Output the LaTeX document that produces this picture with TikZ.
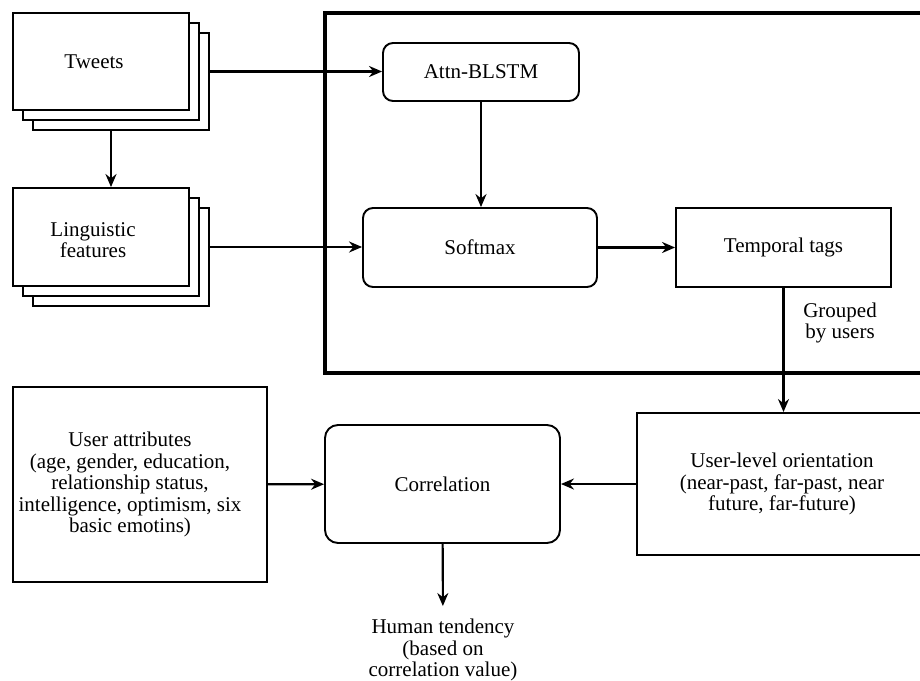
\documentclass[tikz,border=0pt]{standalone}
\usepackage{fontspec}
\setmainfont{Liberation Serif}
\usetikzlibrary{arrows.meta,shadows}
\tikzset{
	box/.style={draw,fill=white,align=center,inner sep=0pt},
	rbox/.style={box,rounded corners=10pt},
	docs/.style={box,copy shadow={shadow xshift=20pt,shadow yshift=-20pt,draw=black,fill=white},
		copy shadow={shadow xshift=10pt,shadow yshift=-10pt,draw=black,fill=white}},
	txt/.style={align=center,inner sep=0pt},
	link/.style={-{Stealth[length=13pt,width=11pt]},line width=2.1pt}
}
\begin{document}
\begin{tikzpicture}[x=1pt,y=-1pt,line width=1.9pt,font=\fontsize{21}{21.5}\selectfont]
		\useasboundingbox (0,0) rectangle (920,680);
		\draw[line width=4pt] (325,13) rectangle (935,373);
		\node[docs,minimum width=176pt,minimum height=97pt,label={[txt,xshift=-7pt]center:Tweets}] (tweets) at (101,61.5) {};
		\node[docs,minimum width=176pt,minimum height=98pt,label={[txt,xshift=-8pt,yshift=-3pt]center:Linguistic\\features}] (ling) at (101,237) {};
		\node[rbox,minimum width=196pt,minimum height=58pt] (attn) at (481,72) {Attn-BLSTM};
		\node[rbox,minimum width=234pt,minimum height=79pt] (soft) at (480,247.5) {Softmax};
		\node[box,minimum width=215pt,minimum height=79pt] (temp) at (783.5,247.5) {Temporal tags};
		\node[txt] (group) at (840,323) {Grouped\\by users};
		\node[box,minimum width=290pt,minimum height=142pt] (ulevel) at (782,484) {User-level orientation\\(near-past, far-past, near\\future, far-future)};
		\node[box,minimum width=254pt,minimum height=195pt,label={[txt,xshift=-10pt]center:User attributes\\(age, gender, education,\\relationship status,\\intelligence, optimism, six\\basic emotins)}] (uattr) at (140,484.5) {};
		\node[rbox,rounded corners=13pt,minimum width=235pt,minimum height=118pt] (corr) at (442.5,484) {Correlation};
		\node[txt,inner ysep=12pt] (human) at (443,650) {Human tendency\\(based on\\correlation value)};
		\coordinate (tw) at ([xshift=20pt,yshift=-10pt]tweets.east);
		\coordinate (li) at ([xshift=20pt,yshift=-10pt]ling.east);
		\draw[link] (tw) -- (tw -| attn.west);
		\draw[link] (li) -- (li -| soft.west);
		\draw[link] ([xshift=10pt,yshift=-20pt]tweets.south) -- ([xshift=10pt]ling.north);
		\draw[link] (attn.south) -- (attn.south |- soft.north);
		\draw[link] (soft) -- (temp);
		\draw[link] (temp.south) -- (temp.south |- ulevel.north);
		\draw[link] (uattr) -- (corr);
		\draw[link] (ulevel) -- (corr);
		\draw[link] (corr) -- (human);
		%\draw[step=20,ultra thin,cyan] (0,0) grid (920,680);
\end{tikzpicture}
\end{document}
